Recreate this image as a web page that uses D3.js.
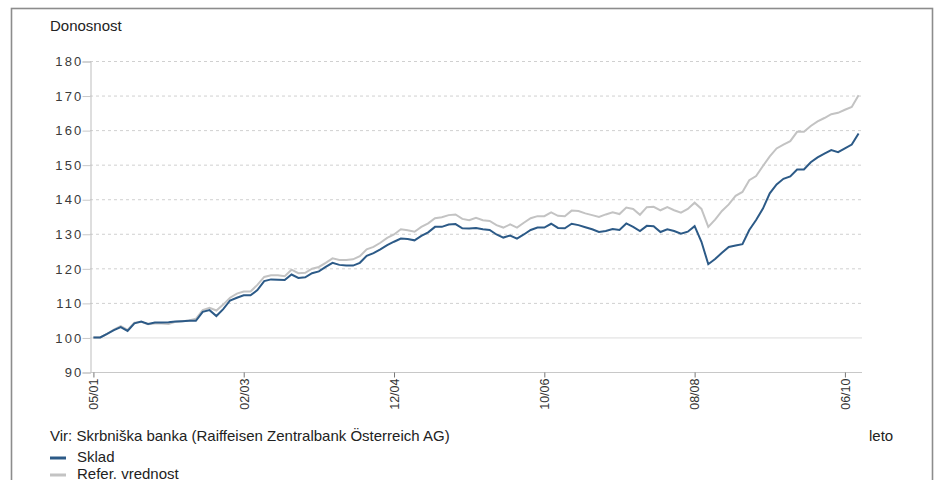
<!DOCTYPE html>
<html>
<head>
<meta charset="utf-8">
<script src="https://cdn.jsdelivr.net/npm/d3@7"></script>
<style>
  body { margin: 0; background: #fff; }
</style>
</head>
<body>
<div id="chart"></div>
<script>
// monthly index values, first point = 100
const sklad = [
  100, 100, 101, 102.1, 103, 101.9, 104.1, 104.6, 103.9, 104.3,
  104.3, 104.4, 104.6, 104.7, 104.8, 104.8, 107.4, 107.9, 106.2, 108.2,
  110.7, 111.5, 112.2, 112.2, 113.7, 116.3, 116.8, 116.7, 116.6, 118.2,
  117.2, 117.4, 118.6, 119.1, 120.4, 121.6, 121.0, 120.8, 120.8, 121.6,
  123.6, 124.4, 125.5, 126.7, 127.7, 128.6, 128.5, 128.1, 129.4, 130.4,
  132.0, 132.0, 132.7, 132.8, 131.6, 131.5, 131.7, 131.3, 131.1, 129.8,
  128.9, 129.5, 128.6, 129.8, 131.1, 131.8, 131.8, 132.9, 131.7, 131.6,
  132.9, 132.5, 131.9, 131.3, 130.5, 130.8, 131.4, 131.1, 133.0, 132.0,
  130.8, 132.3, 132.2, 130.5, 131.3, 130.8, 130.0, 130.6, 132.2, 127.7,
  121.2, 122.7, 124.5, 126.2, 126.6, 127.0, 131.1, 134.0, 137.3, 141.7,
  144.3, 145.9, 146.6, 148.6, 148.6, 150.7, 152.1, 153.2, 154.2, 153.6,
  154.7, 155.8, 159.0
]
const refer = [
  100, 100, 101, 102.3, 103.3, 102.2, 104.3, 104.5, 103.8, 104.0,
  104.0, 103.9, 104.5, 104.7, 104.9, 105.4, 107.9, 108.6, 107.8, 109.5,
  111.5, 112.7, 113.3, 113.3, 115.2, 117.5, 118.0, 118.0, 117.7, 119.6,
  118.6, 118.7, 119.9, 120.4, 121.6, 122.9, 122.4, 122.4, 122.6, 123.5,
  125.5, 126.2, 127.4, 128.8, 129.8, 131.3, 131.0, 130.6, 132.0, 133.0,
  134.5, 134.8, 135.4, 135.6, 134.3, 133.9, 134.6, 133.9, 133.7, 132.5,
  131.8, 132.7, 131.8, 133.2, 134.5, 135.1, 135.1, 136.2, 135.2, 135.1,
  136.7, 136.6, 135.9, 135.4, 134.9, 135.6, 136.2, 135.7, 137.6, 137.2,
  135.5, 137.7, 137.8, 136.8, 137.7, 136.8, 136.1, 137.2, 139.0, 137.2,
  132.0, 134.1, 136.6, 138.5, 141.0, 142.1, 145.5, 146.7, 149.6, 152.4,
  154.7, 155.8, 156.8, 159.5, 159.5, 161.2, 162.5, 163.5, 164.6, 165.0,
  165.9, 166.7, 170.1
]
const tickIndex = [0, 22, 44, 66, 88, 110]
const tickLabels = ["05/01", "02/03", "12/04", "10/06", "08/08", "06/10"]
const yTicks = [90, 100, 110, 120, 130, 140, 150, 160, 170, 180]

const w = 941, h = 480
const font = "'Liberation Sans', Arial, Helvetica, sans-serif"
const blue = "#2c5a87"
const grey = "#c3c3c3"
const plotLeft = 90, plotRight = 862, plotTop = 61, plotBottom = 372

const svg = d3.select("#chart").append("svg")
  .attr("width", w)
  .attr("height", h)
  .style("font-family", font)

// outer frame
svg.append("rect")
  .attr("x", 11.5).attr("y", 8.5)
  .attr("width", 921).attr("height", 500)
  .attr("fill", "none")
  .attr("stroke", "#8c8c8c")
  .attr("stroke-width", 1.6)

const x = d3.scalePoint()
  .domain(d3.range(sklad.length))
  .range([plotLeft, plotRight])
  .padding(0.5)

const y = d3.scaleLinear()
  .domain([90, 180])
  .range([plotBottom, plotTop])

// grid
const grid = svg.append("g").attr("class", "grid")
yTicks.forEach(v => {
  if (v === 90) return
  grid.append("line")
    .attr("x1", plotLeft).attr("x2", plotRight)
    .attr("y1", y(v) + 0.5).attr("y2", y(v) + 0.5)
    .attr("stroke", v === 100 ? "#dcdcdc" : "#d0d0d0")
    .attr("stroke-dasharray", v === 100 ? null : "3,3")
})

// y axis
const yAxis = svg.append("g")
  .attr("transform", `translate(${plotLeft + 0.5},0.5)`)
  .call(d3.axisLeft(y).tickValues(yTicks).tickSize(8).tickPadding(-1))
yAxis.select(".domain").attr("stroke", "#bdbdbd")
yAxis.selectAll("line").attr("stroke", "#c8c8c8")
yAxis.selectAll("text")
  .attr("fill", "#3a3a3a")
  .style("font-size", "13px")
  .style("font-family", font)
  .style("letter-spacing", "2.2px")

// x axis
const xAxis = svg.append("g")
  .attr("transform", `translate(0,${plotBottom + 0.5})`)
  .call(d3.axisBottom(x)
    .tickValues(tickIndex)
    .tickFormat((d, i) => tickLabels[i])
    .tickSize(5)
    .tickSizeOuter(0))
xAxis.select(".domain")
  .attr("stroke", "#c8c8c8")
  .attr("d", `M${plotLeft},0H${plotRight}`)
xAxis.selectAll("line").attr("stroke", "#777")
xAxis.selectAll("text")
  .attr("fill", "#333")
  .attr("transform", "rotate(-90)")
  .attr("text-anchor", "end")
  .attr("x", -6)
  .attr("y", 0)
  .attr("dy", "0.35em")
  .style("font-size", "12.5px")
  .style("font-family", font)

// series
const line = d3.line()
  .x((d, i) => x(i))
  .y(d => y(d))

svg.append("path")
  .datum(refer)
  .attr("d", line)
  .attr("fill", "none")
  .attr("stroke", grey)
  .attr("stroke-width", 2)

svg.append("path")
  .datum(sklad)
  .attr("d", line)
  .attr("fill", "none")
  .attr("stroke", blue)
  .attr("stroke-width", 2)

// texts
svg.append("text")
  .attr("x", 50).attr("y", 31)
  .attr("fill", "#222")
  .style("font-size", "15px")
  .text("Donosnost")

svg.append("text")
  .attr("x", 50).attr("y", 441)
  .attr("fill", "#222")
  .style("font-size", "15px")
  .text("Vir: Skrbniška banka (Raiffeisen Zentralbank Österreich AG)")

svg.append("text")
  .attr("x", 869).attr("y", 441)
  .attr("fill", "#222")
  .style("font-size", "15px")
  .text("leto")

// legend
const legend = [["Sklad", blue], ["Refer. vrednost", grey]]
legend.forEach(([label, color], i) => {
  const ly = 458 + i * 17
  svg.append("line")
    .attr("x1", 50).attr("x2", 66)
    .attr("y1", ly).attr("y2", ly)
    .attr("stroke", color)
    .attr("stroke-width", 3)
  svg.append("text")
    .attr("x", 77).attr("y", ly + 4)
    .attr("fill", "#222")
    .style("font-size", "15px")
    .text(label)
})
</script>
</body>
</html>
